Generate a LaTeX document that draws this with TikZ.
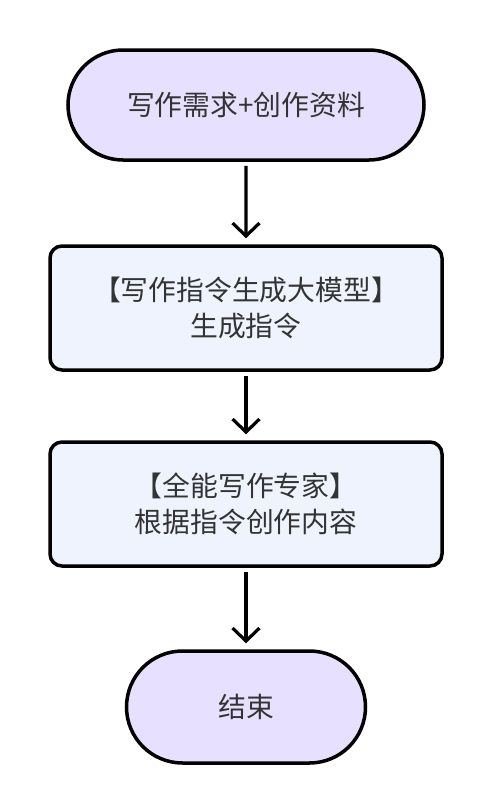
\documentclass[tikz,border=0pt]{standalone}
\usepackage{fontspec}
\setmainfont{Noto Sans CJK SC}
\usetikzlibrary{arrows.meta,shapes.misc}
\definecolor{pillfill}{HTML}{E8E0FF}
\definecolor{boxfill}{HTML}{EEF3FD}
\definecolor{txt}{HTML}{333333}
\tikzset{
  pill/.style={draw=black, line width=3.5pt, fill=pillfill, rounded rectangle, text=txt, font=\fontsize{27.8}{33}\selectfont, inner sep=0pt},
  procbox/.style={draw=black, line width=3.5pt, fill=boxfill, rounded corners=12pt, text=txt, font=\fontsize{27.8}{36}\selectfont, align=center, minimum width=392pt, minimum height=124pt, inner sep=0pt},
  flow/.style={draw=black, line width=3.2pt, -{Straight Barb[length=13pt,width=27pt,line width=3.2pt]}, shorten >=6pt, shorten <=4pt}
}
\begin{document}
\begin{tikzpicture}[x=1pt,y=-1pt]
\useasboundingbox (0,0) rectangle (492,812);
\node[pill, minimum width=356pt, minimum height=110pt] (start) at (246,105) {写作需求+创作资料};
\node[procbox] (gen) at (246,308) {【写作指令生成大模型】\\生成指令};
\node[procbox] (write) at (246,504) {【全能写作专家】\\根据指令创作内容};
\node[pill, minimum width=239pt, minimum height=112pt] (end) at (246,707) {结束};
\draw[flow] (start) -- (gen);
\draw[flow] (gen) -- (write);
\draw[flow] (write) -- (end);
\end{tikzpicture}
\end{document}
